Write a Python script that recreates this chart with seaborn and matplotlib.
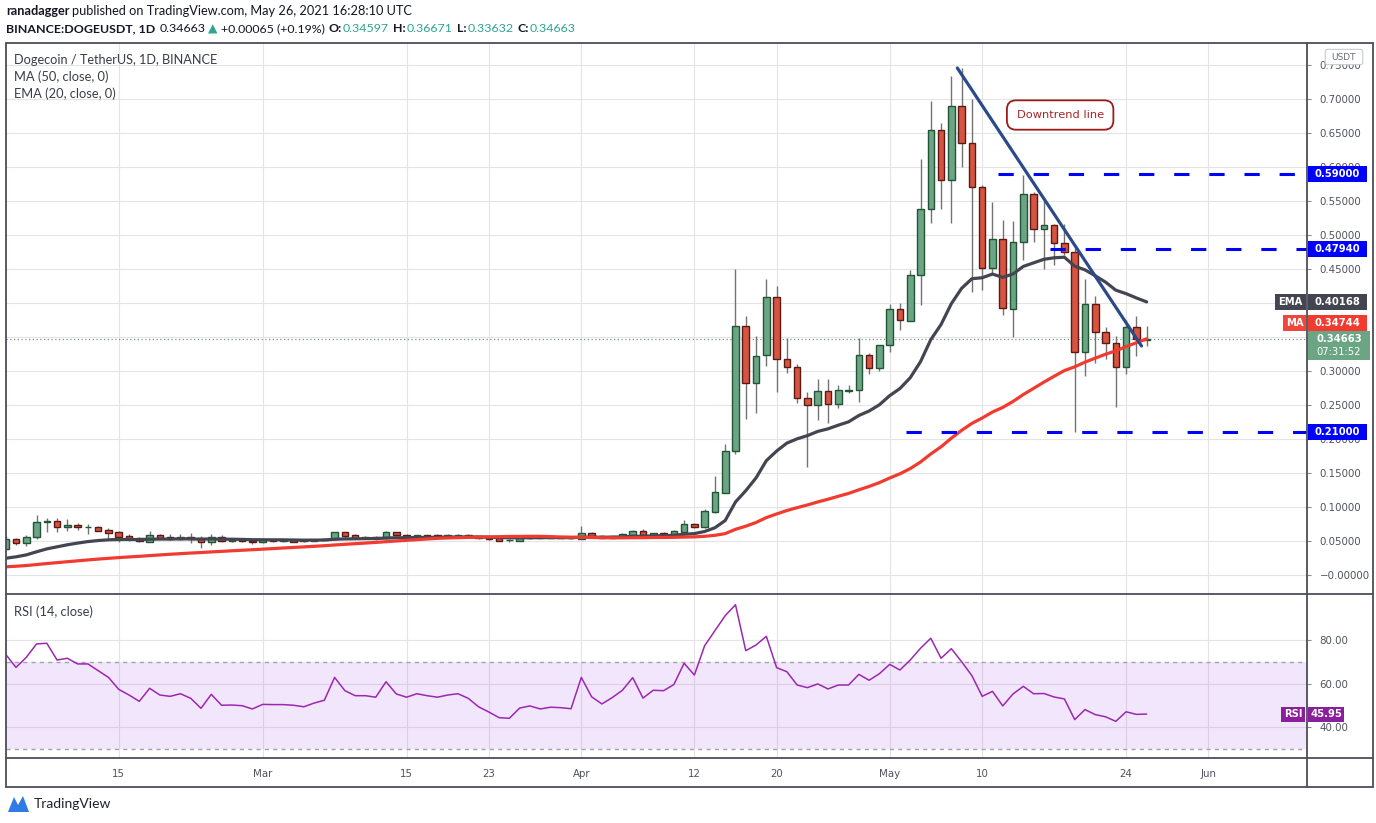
import numpy as np
import pandas as pd
import matplotlib
matplotlib.use("Agg")
import matplotlib.pyplot as plt
import matplotlib.dates as mdates
from matplotlib.patches import Rectangle, FancyBboxPatch, Polygon
from matplotlib.lines import Line2D
from matplotlib import font_manager as fm
import seaborn as sns

# ---- daily candles (DOGE/USDT, Binance), Feb 4 - May 26 2021 ----
dates = pd.date_range("2021-02-04", "2021-05-26", freq="D")

opens = [0.0378, 0.0525, 0.0466, 0.0564, 0.0775, 0.0794, 0.0701, 0.0730, 0.0700, 0.0701,
         0.0657, 0.0628, 0.0569, 0.0540, 0.0490, 0.0584, 0.0559, 0.0534, 0.0559, 0.0540,
         0.0480, 0.0564, 0.0495, 0.0520, 0.0505, 0.0480, 0.0520, 0.0503, 0.0515, 0.0510,
         0.0505, 0.0520, 0.0525, 0.0628, 0.0583, 0.0544, 0.0559, 0.0544, 0.0628, 0.0584,
         0.0559, 0.0584, 0.0584, 0.0564, 0.0569, 0.0588, 0.0569, 0.0559, 0.0540, 0.0512,
         0.0505, 0.0549, 0.0549, 0.0549, 0.0559, 0.0554, 0.0534, 0.0618, 0.0569, 0.0549,
         0.0564, 0.0593, 0.0647, 0.0584, 0.0618, 0.0608, 0.0637, 0.0745, 0.0700, 0.0931,
         0.1210, 0.1819, 0.3657, 0.2819, 0.3230, 0.4084, 0.3170, 0.3054, 0.2600, 0.2495,
         0.2700, 0.2510, 0.2712, 0.2716, 0.3231, 0.3040, 0.3380, 0.3907, 0.3740, 0.4407,
         0.5378, 0.6540, 0.5804, 0.6897, 0.6360, 0.5700, 0.4510, 0.4937, 0.3907, 0.4897,
         0.5598, 0.5083, 0.5142, 0.4878, 0.4755, 0.3284, 0.3980, 0.3578, 0.3416, 0.3054,
         0.3652, 0.34597]
highs = [0.0580, 0.0549, 0.0588, 0.0882, 0.0843, 0.0833, 0.0824, 0.0760, 0.0745, 0.0720,
         0.0696, 0.0647, 0.0598, 0.0554, 0.0647, 0.0608, 0.0598, 0.0598, 0.0618, 0.0574,
         0.0603, 0.0588, 0.0535, 0.0530, 0.0525, 0.0530, 0.0535, 0.0535, 0.0525, 0.0520,
         0.0530, 0.0540, 0.0640, 0.0640, 0.0600, 0.0575, 0.0575, 0.0650, 0.0640, 0.0600,
         0.0595, 0.0595, 0.0600, 0.0600, 0.0600, 0.0600, 0.0580, 0.0565, 0.0560, 0.0530,
         0.0560, 0.0565, 0.0560, 0.0565, 0.0565, 0.0562, 0.0725, 0.0630, 0.0590, 0.0580,
         0.0615, 0.0660, 0.0670, 0.0625, 0.0640, 0.0660, 0.0813, 0.0770, 0.0975, 0.1456,
         0.1926, 0.4500, 0.3810, 0.3515, 0.4353, 0.4250, 0.3480, 0.3100, 0.2687, 0.2890,
         0.2890, 0.2800, 0.2800, 0.3480, 0.3270, 0.3390, 0.3985, 0.3995, 0.4485, 0.6118,
         0.6970, 0.6650, 0.7338, 0.7450, 0.7000, 0.5730, 0.5480, 0.5216, 0.5200, 0.5890,
         0.5637, 0.5495, 0.5160, 0.5160, 0.4804, 0.4353, 0.4110, 0.3650, 0.3515, 0.3750,
         0.3810, 0.36671]
lows = [0.0370, 0.0441, 0.0431, 0.0525, 0.0628, 0.0628, 0.0647, 0.0666, 0.0608, 0.0642,
        0.0544, 0.0480, 0.0500, 0.0480, 0.0480, 0.0525, 0.0515, 0.0520, 0.0466, 0.0402,
        0.0446, 0.0480, 0.0490, 0.0485, 0.0456, 0.0475, 0.0490, 0.0490, 0.0480, 0.0480,
        0.0500, 0.0510, 0.0515, 0.0560, 0.0530, 0.0530, 0.0520, 0.0535, 0.0570, 0.0545,
        0.0550, 0.0550, 0.0555, 0.0555, 0.0560, 0.0550, 0.0535, 0.0510, 0.0495, 0.0490,
        0.0500, 0.0535, 0.0540, 0.0540, 0.0540, 0.0530, 0.0530, 0.0550, 0.0540, 0.0540,
        0.0555, 0.0585, 0.0570, 0.0575, 0.0580, 0.0595, 0.0630, 0.0690, 0.0690, 0.0916,
        0.1206, 0.1780, 0.2300, 0.2387, 0.3078, 0.2696, 0.2966, 0.2525, 0.1593, 0.2275,
        0.2240, 0.2460, 0.2670, 0.2550, 0.2950, 0.3000, 0.3275, 0.3610, 0.3730, 0.3970,
        0.5170, 0.5390, 0.5170, 0.5995, 0.4157, 0.4190, 0.4436, 0.3820, 0.3505, 0.4632,
        0.4900, 0.4496, 0.4554, 0.4700, 0.2108, 0.2930, 0.3122, 0.3170, 0.2475, 0.2956,
        0.3220, 0.33632]
closes = [0.0525, 0.0466, 0.0564, 0.0775, 0.0794, 0.0701, 0.0730, 0.0706, 0.0704, 0.0652,
          0.0622, 0.0564, 0.0534, 0.0495, 0.0584, 0.0544, 0.0534, 0.0559, 0.0534, 0.0480,
          0.0564, 0.0495, 0.0520, 0.0495, 0.0480, 0.0515, 0.0503, 0.0520, 0.0490, 0.0495,
          0.0520, 0.0530, 0.0628, 0.0578, 0.0549, 0.0559, 0.0540, 0.0628, 0.0584, 0.0559,
          0.0584, 0.0564, 0.0564, 0.0588, 0.0588, 0.0559, 0.0544, 0.0525, 0.0505, 0.0517,
          0.0549, 0.0559, 0.0556, 0.0559, 0.0544, 0.0544, 0.0618, 0.0564, 0.0549, 0.0569,
          0.0603, 0.0647, 0.0584, 0.0618, 0.0598, 0.0647, 0.0745, 0.0701, 0.0937, 0.1216,
          0.1820, 0.3657, 0.2819, 0.3216, 0.4084, 0.3170, 0.3054, 0.2600, 0.2495, 0.2700,
          0.2510, 0.2716, 0.2718, 0.3231, 0.3040, 0.3378, 0.3907, 0.3745, 0.4407, 0.5378,
          0.6540, 0.5804, 0.6897, 0.6360, 0.5700, 0.4510, 0.4937, 0.3920, 0.4897, 0.5598,
          0.5083, 0.5142, 0.4878, 0.4755, 0.3284, 0.3980, 0.3578, 0.3416, 0.3063, 0.3652,
          0.3475, 0.34663]

# closes before the visible window (Dec 16 2020 - Feb 3 2021), only to warm up MA50 / EMA20
warmup_closes = [0.0044, 0.0046, 0.0046, 0.0047, 0.0050, 0.0050, 0.0045, 0.0041, 0.0043, 0.0045,
                 0.0046, 0.0047, 0.0048, 0.0047, 0.0047, 0.0047,
                 0.0057, 0.0097, 0.0094, 0.0097, 0.0100, 0.0099, 0.0098, 0.0097, 0.0099, 0.0096,
                 0.0080, 0.0082, 0.0089, 0.0091, 0.0087, 0.0089, 0.0090, 0.0089, 0.0090, 0.0088,
                 0.0079, 0.0083, 0.0082, 0.0085, 0.0083, 0.0079, 0.0074, 0.0305, 0.0376, 0.0332,
                 0.0371, 0.0352, 0.0340, 0.0368]

# RSI(14)
rsi = [73.4, 67.4, 72.0, 78.2, 78.5, 70.8, 71.6, 69.0, 69.0, 65.9,
       62.8, 57.3, 54.7, 51.8, 57.8, 54.7, 54.1, 55.3, 53.2, 48.6,
       55.0, 50.0, 50.1, 49.8, 48.3, 50.4, 50.3, 50.3, 50.0, 49.3,
       51.0, 52.3, 62.8, 56.7, 54.4, 54.4, 53.7, 60.8, 55.2, 53.7,
       55.3, 54.4, 53.7, 54.7, 55.3, 53.2, 49.3, 46.9, 44.3, 44.0,
       48.7, 49.7, 48.3, 49.1, 48.9, 48.4, 62.8, 53.9, 50.6, 53.5,
       56.9, 62.7, 53.3, 56.9, 56.7, 59.5, 69.3, 63.9, 77.4, 84.3,
       91.2, 96.2, 75.1, 77.7, 81.7, 67.3, 65.4, 59.3, 58.1, 59.8,
       57.5, 59.3, 59.3, 64.2, 61.5, 64.5, 68.8, 66.2, 70.8, 76.2,
       80.8, 71.6, 76.0, 70.0, 63.6, 54.1, 56.4, 49.7, 55.2, 58.7,
       55.3, 55.4, 53.8, 52.9, 43.4, 48.0, 45.7, 44.7, 42.6, 47.0,
       45.8, 45.95]

# values printed on the scale tags
ema_tag, ma_tag, last_tag, rsi_tag, countdown = "0.40168", "0.34744", "0.34663", "45.95", "07:31:52"

# drawings on the chart
levels = [0.59, 0.4794, 0.21]
level_labels = ["0.59000", "0.47940", "0.21000"]
level_starts = ["2021-05-11 14:00", "2021-05-16 14:00", "2021-05-02 14:00"]
trend_dates = ["2021-05-07 14:00", "2021-05-25 12:00"]
trend_prices = [0.7456, 0.3368]
note_date, note_price = "2021-05-17 14:00", 0.6765

price_ticks = [0.00, 0.05, 0.10, 0.15, 0.20, 0.25, 0.30, 0.35, 0.40, 0.45, 0.50, 0.55, 0.60, 0.65, 0.70, 0.75]
price_labels = ["\u22120.00000", "0.05000", "0.10000", "0.15000", "0.20000", "0.25000", "0.30000", "",
                "", "0.45000", "0.50000", "0.55000", "0.60000", "0.65000", "0.70000", "0.75000"]
rsi_ticks = [40, 60, 80]
rsi_labels = ["40.00", "60.00", "80.00"]
date_ticks = ["2021-02-15", "2021-03-01", "2021-03-15", "2021-03-23", "2021-04-01", "2021-04-12",
              "2021-04-20", "2021-05-01", "2021-05-10", "2021-05-24", "2021-06-01"]
date_labels = ["15", "Mar", "15", "23", "Apr", "12", "20", "May", "10", "24", "Jun"]

# ---- indicators ----
hist = pd.Series(warmup_closes + closes)
ema20 = hist.ewm(span=20, adjust=False).mean().to_numpy()[len(warmup_closes):]
ma50 = hist.rolling(50).mean().to_numpy()[len(warmup_closes):]

# ---- style ----
sns.set_style("white")
names = {f.name for f in fm.fontManager.ttflist}
ui_font = "Liberation Sans Narrow" if "Liberation Sans Narrow" in names else "Lato"
plt.rcParams["font.family"] = [ui_font, "DejaVu Sans"]

UP, UP_EDGE = "#6BA583", "#225437"
DOWN, DOWN_EDGE = "#D75442", "#5B1A13"
WICK = "#737375"
EMA_C, MA_C = "#434651", "#F23B30"
LEVEL_C, TREND_C = "#0000FF", "#2A4A8A"
RSI_C = "#9C27B0"
TXT = "#131722"
AX_TXT = "#50535E"
GRID = "#E4E4E4"
FRAME = "#4B4E57"

W, H = 1376, 823
fig = plt.figure(figsize=(W / 100, H / 100), dpi=100)


def fx(px):
    return px / W


def fy(py):
    return 1 - py / H


PLOT_L, PLOT_R, FRAME_R = 6, 1307, 1373
MAIN_T, MAIN_B, RSI_B, AXIS_B = 43, 594, 758, 787

ax = fig.add_axes([fx(PLOT_L), fy(MAIN_B), (PLOT_R - PLOT_L) / W, (MAIN_B - MAIN_T) / H])
rax = fig.add_axes([fx(PLOT_L), fy(RSI_B), (PLOT_R - PLOT_L) / W, (RSI_B - MAIN_B) / H], sharex=ax)

x = mdates.date2num(dates)
o, h, l, c = (np.array(v) for v in (opens, highs, lows, closes))
up = c >= o

# candles
ax.vlines(x, l, h, color=WICK, lw=1.0, zorder=3)
ax.bar(x, np.maximum(np.abs(c - o), 0.0006), bottom=np.minimum(o, c), width=0.64,
       color=np.where(up, UP, DOWN), edgecolor=np.where(up, UP_EDGE, DOWN_EDGE), linewidth=1.0, zorder=4)

# moving averages
sns.lineplot(x=x, y=ema20, ax=ax, color=EMA_C, linewidth=2.3, zorder=5)
sns.lineplot(x=x, y=ma50, ax=ax, color=MA_C, linewidth=2.3, zorder=5)

x_left = x[0] + 0.03
x_right = x[0] + 126.6
ax.set_xlim(x_left, x_right)
ax.set_ylim(-0.0279, 0.7824)

# horizontal levels and downtrend line
for lvl, start in zip(levels, level_starts):
    ax.plot([mdates.date2num(pd.Timestamp(start)), x_right], [lvl, lvl], color=LEVEL_C,
            lw=2.2, ls=(0, (5, 6.5)), zorder=6, solid_capstyle="butt")
ax.plot(mdates.date2num(pd.to_datetime(trend_dates)), trend_prices, color=TREND_C, lw=2.3, zorder=6)
ax.axhline(closes[-1], color="#6F968A", lw=0.9, ls=(0, (1, 2)), zorder=2)

ax.text(mdates.date2num(pd.Timestamp(note_date)), note_price, "Downtrend line", family="DejaVu Sans",
        fontsize=8.2, color="#A3262A", ha="center", va="center", zorder=8,
        bbox=dict(boxstyle="round,pad=0.85,rounding_size=0.8", fc="white", ec="#9B1B1B", lw=1.3))

# RSI pane
rax.axhspan(30, 70, color="#A040F0", alpha=0.13, lw=0, zorder=1)
for lv in (30, 70):
    rax.axhline(lv, color="#A3A3A8", lw=1.0, ls=(0, (3, 3)), zorder=2)
sns.lineplot(x=x, y=rsi, ax=rax, color=RSI_C, linewidth=1.1, zorder=4)
rax.set_ylim(25.75, 101.15)

# axes, ticks, grid
ax.set_yticks(price_ticks, price_labels)
rax.set_yticks(rsi_ticks, rsi_labels)
rax.set_xticks(mdates.date2num(pd.to_datetime(date_ticks)), date_labels)
for a in (ax, rax):
    a.set_xlabel("")
    a.set_ylabel("")
    a.yaxis.tick_right()
    a.grid(True, color=GRID, lw=0.8)
    a.set_axisbelow(True)
    a.tick_params(axis="y", length=3, width=0.8, color="#8A8D96", pad=6, labelsize=7.4,
                  labelcolor=AX_TXT, labelfontfamily="DejaVu Sans")
    for s in a.spines.values():
        s.set_visible(False)
ax.tick_params(axis="x", length=0, labelbottom=False)
rax.tick_params(axis="x", length=0, pad=8, labelsize=7.4, labelcolor=AX_TXT, labelfontfamily="DejaVu Sans")
rax.set_xlim(x_left, x_right)


# frame around chart, price scale and time scale
def fig_line(x0, y0, x1, y1, **kw):
    fig.add_artist(Line2D([fx(x0), fx(x1)], [fy(y0), fy(y1)], transform=fig.transFigure, **kw))


frame = dict(color=FRAME, lw=1.3, zorder=10)
for yy in (MAIN_T, MAIN_B, RSI_B, AXIS_B):
    fig_line(PLOT_L, yy, FRAME_R, yy, **frame)
for xx in (PLOT_L, PLOT_R, FRAME_R):
    fig_line(xx, MAIN_T, xx, AXIS_B, **frame)


# price tags on the scale
def tag(a, yval, label, fc, left, width, height=16, size=7.2, dy=0, color="white", weight="bold"):
    y = a.transData.transform((x_left, yval))[1] - dy
    fig.add_artist(Rectangle((fx(left), (y - height / 2) / H), width / W, height / H,
                             transform=fig.transFigure, fc=fc, ec="none", zorder=11))
    t = fig.text(fx(left + width / 2), y / H, label, ha="center", va="center", color=color,
                 fontsize=size, fontweight=weight, family="DejaVu Sans", zorder=12)
    return y, t


for lvl, lab in zip(levels, level_labels):
    tag(ax, lvl, lab, LEVEL_C, PLOT_R + 1, 59)
tag(ax, ema20[-1], ema_tag, EMA_C, PLOT_R + 1, 59)
tag(ax, ema20[-1], "EMA", EMA_C, 1275, 31)
tag(ax, ma50[-1], ma_tag, MA_C, PLOT_R + 1, 59, dy=-16)
tag(ax, ma50[-1], "MA", "#F0473C", 1283, 23, dy=-16)
yl, tl = tag(ax, closes[-1], last_tag, "#6BA583", PLOT_R + 1, 62, height=29, dy=6)
tl.set_position((fx(PLOT_R + 32), (yl + 6) / H))
fig.text(fx(PLOT_R + 32), (yl - 7) / H, countdown, ha="center", va="center", color="white",
         fontsize=7.2, family="DejaVu Sans", zorder=12)
tag(rax, rsi[-1], rsi_tag, "#8B1E9B", PLOT_R + 1, 36, height=15)
tag(rax, rsi[-1], "RSI", "#8B1E9B", 1281, 24, height=15)

fig.add_artist(FancyBboxPatch((fx(1328), fy(63)), 32 / W, 12 / H, boxstyle="round,pad=0.002",
                              transform=fig.transFigure, fc="white", ec="#C9CBD1", lw=0.8, zorder=11))
fig.text(fx(1344), fy(57), "USDT", ha="center", va="center", fontsize=6.5, color="#6A6D78",
         family="DejaVu Sans", zorder=12)

# legends inside the panes
fig.text(fx(14), fy(60), "Dogecoin / TetherUS, 1D, BINANCE", fontsize=9.2, color="#3B3E47", va="center")
fig.text(fx(14), fy(77), "MA (50, close, 0)", fontsize=9.3, color="#3B3E47", va="center")
fig.text(fx(14), fy(94), "EMA (20, close, 0)", fontsize=9.3, color="#3B3E47", va="center")
fig.text(fx(14), fy(612), "RSI (14, close)", fontsize=9.3, color="#3B3E47", va="center")

# header lines
renderer = fig.canvas.get_renderer()


def text_run(px, py, parts, size):
    for s, color, weight, gap in parts:
        t = fig.text(fx(px), fy(py), s, color=color, fontsize=size, fontweight=weight, va="center")
        px += t.get_window_extent(renderer).width + gap


text_run(6, 11, [("ranadagger", TXT, "bold", 3),
                 ("published on TradingView.com, May 26, 2021 16:28:10 UTC", TXT, "normal", 0)], 9.2)
TEAL = "#2DA393"
text_run(6, 29, [("BINANCE:DOGEUSDT, 1D", TXT, "bold", 4), ("0.34663", TXT, "normal", 3),
                 ("\u25B2", TEAL, "normal", 3), ("+0.00065 (+0.19%)", TXT, "normal", 4),
                 ("O:", TXT, "bold", 1), ("0.34597", TEAL, "normal", 4),
                 ("H:", TXT, "bold", 1), ("0.36671", TEAL, "normal", 4),
                 ("L:", TXT, "bold", 1), ("0.33632", TEAL, "normal", 4),
                 ("C:", TXT, "bold", 1), ("0.34663", TEAL, "normal", 0)], 8.9)

# TradingView mark at the bottom
fig.add_artist(Polygon([(fx(8), fy(812)), (fx(14), fy(797)), (fx(18), fy(805)), (fx(23), fy(796)),
                        (fx(29), fy(812))], closed=True, transform=fig.transFigure,
                       fc="#2E7BE6", ec="none", zorder=10))
fig.text(fx(34), fy(804), "TradingView", fontsize=10, color="#20232B", va="center")

fig.savefig("out.png", dpi=100)
